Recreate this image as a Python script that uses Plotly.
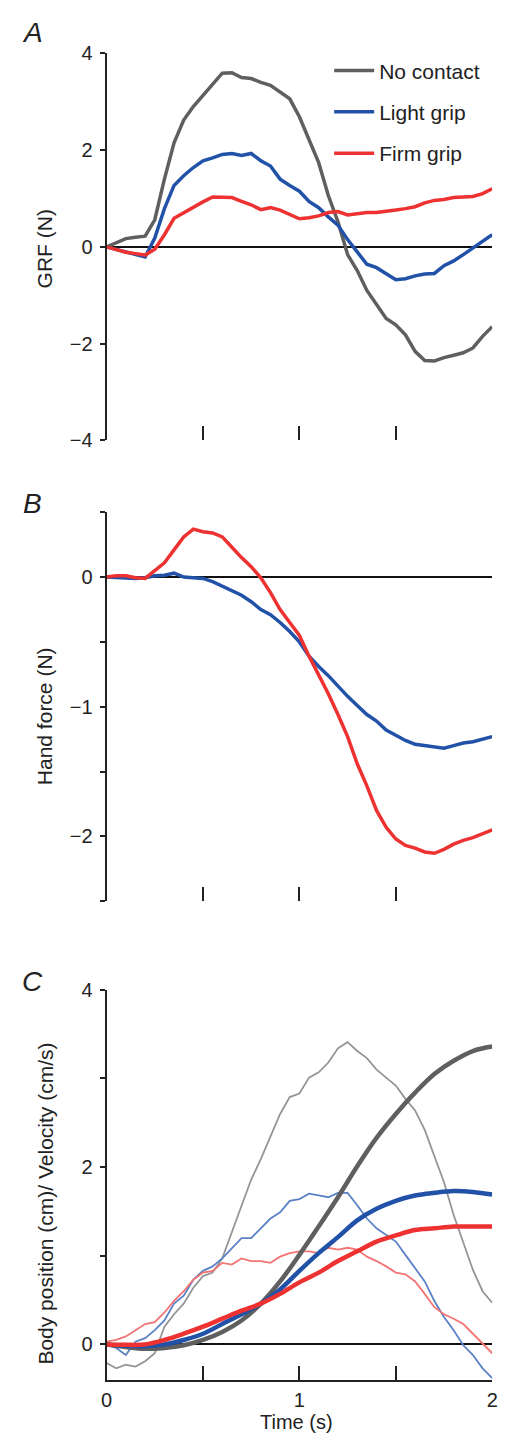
import plotly.graph_objects as go

# ---------------- data ----------------
t05 = [round(i * 0.05, 2) for i in range(41)]
t10 = [round(i * 0.1, 1) for i in range(21)]

# Panel A: ground reaction force (N)
grf_no_contact = [0, 0.09, 0.17, 0.2, 0.22, 0.56, 1.4, 2.15, 2.62, 2.9, 3.13, 3.37, 3.59, 3.6, 3.5,
                  3.48, 3.4, 3.34, 3.2, 3.06, 2.69, 2.22, 1.74, 1.06, 0.52, -0.16, -0.49, -0.9, -1.2,
                  -1.48, -1.61, -1.82, -2.16, -2.35, -2.36, -2.29, -2.24, -2.19, -2.09, -1.85, -1.65]
grf_light = [0, -0.05, -0.11, -0.16, -0.21, 0.18, 0.79, 1.27, 1.47, 1.64, 1.78, 1.84, 1.91, 1.93, 1.89,
             1.93, 1.78, 1.67, 1.4, 1.27, 1.15, 0.94, 0.81, 0.62, 0.45, 0.15, -0.11, -0.36, -0.43,
             -0.56, -0.68, -0.66, -0.6, -0.56, -0.55, -0.39, -0.29, -0.16, -0.02, 0.12, 0.25]
grf_firm = [0, -0.05, -0.11, -0.14, -0.17, -0.05, 0.25, 0.59, 0.71, 0.83, 0.93, 1.03, 1.02, 1.02, 0.94,
            0.87, 0.77, 0.81, 0.76, 0.66, 0.58, 0.6, 0.64, 0.71, 0.73, 0.66, 0.68, 0.71, 0.71,
            0.73, 0.76, 0.79, 0.83, 0.91, 0.96, 0.98, 1.02, 1.03, 1.04, 1.1, 1.2]

# Panel B: hand force (N)
hand_light = [0, -0.005, -0.005, -0.01, -0.005, 0.01, 0.015, 0.03, 0, -0.005, -0.01, -0.035, -0.07,
              -0.11, -0.14, -0.19, -0.25, -0.29, -0.35, -0.42, -0.5, -0.61, -0.69, -0.76, -0.84,
              -0.92, -0.99, -1.06, -1.11, -1.18, -1.22, -1.26, -1.29, -1.3, -1.31, -1.32, -1.3,
              -1.28, -1.27, -1.25, -1.23]
hand_firm = [0, 0.01, 0.01, -0.005, -0.01, 0.05, 0.11, 0.21, 0.31, 0.37, 0.35, 0.34, 0.31, 0.23, 0.15,
             0.08, -0.005, -0.12, -0.25, -0.35, -0.45, -0.61, -0.75, -0.9, -1.06, -1.23, -1.44,
             -1.61, -1.8, -1.93, -2.02, -2.07, -2.09, -2.12, -2.13, -2.1, -2.06, -2.03, -2.01,
             -1.98, -1.95]

# Panel C: body position (cm), smooth, 0.1 s steps
pos_no_contact = [0, -0.03, -0.05, -0.04, -0.01, 0.05, 0.14, 0.27, 0.46, 0.71, 1.01, 1.33, 1.66,
                  2.01, 2.33, 2.6, 2.84, 3.05, 3.2, 3.31, 3.36]
pos_light = [0, -0.015, -0.02, 0, 0.05, 0.12, 0.23, 0.34, 0.46, 0.62, 0.83, 1.03, 1.21, 1.4, 1.53,
             1.62, 1.68, 1.71, 1.73, 1.72, 1.69]
pos_firm = [0, -0.005, 0, 0.05, 0.12, 0.2, 0.29, 0.38, 0.46, 0.57, 0.7, 0.81, 0.94, 1.05, 1.16,
            1.23, 1.29, 1.31, 1.33, 1.33, 1.33]

# Panel C: velocity (cm/s), 0.05 s steps
vel_no_contact = [-0.21, -0.27, -0.23, -0.25, -0.19, -0.1, 0.2, 0.34, 0.46, 0.64, 0.77, 0.81, 0.97,
                  1.27, 1.57, 1.86, 2.09, 2.34, 2.6, 2.79, 2.83, 3.01, 3.07, 3.18, 3.34, 3.41, 3.31,
                  3.23, 3.1, 3.01, 2.92, 2.77, 2.64, 2.42, 2.12, 1.83, 1.46, 1.16, 0.84, 0.6, 0.47]
vel_light = [0, -0.04, -0.12, 0.03, 0.07, 0.16, 0.27, 0.46, 0.55, 0.73, 0.83, 0.88, 0.97, 1.09, 1.2,
             1.2, 1.31, 1.42, 1.49, 1.62, 1.64, 1.7, 1.68, 1.66, 1.71, 1.71, 1.57, 1.42, 1.31,
             1.23, 1.16, 1.01, 0.86, 0.71, 0.49, 0.31, 0.16, -0.01, -0.12, -0.27, -0.38]
vel_firm = [0.03, 0.05, 0.09, 0.16, 0.23, 0.25, 0.36, 0.49, 0.6, 0.73, 0.81, 0.83, 0.92, 0.9, 0.97,
            0.94, 0.94, 0.92, 0.99, 1.03, 1.05, 1.05, 1.03, 1.09, 1.07, 1.09, 1.07, 0.99, 0.94,
            0.88, 0.81, 0.79, 0.71, 0.57, 0.42, 0.34, 0.29, 0.23, 0.12, 0.01, -0.1]

series_names = ["No contact", "Light grip", "Firm grip"]
x_tickvals = [0, 0.5, 1, 1.5, 2]
x_ticktext = ["0", "", "1", "", "2"]
y_titles = ["GRF (N)", "Hand force (N)", "Body position (cm)/ Velocity (cm/s)"]
panel_letters = ["A", "B", "C"]

# ---------------- styling ----------------
GREY, BLUE, RED = "#5f5f5f", "#2152a8", "#ee3232"
GREY_L, BLUE_L, RED_L = "#959595", "#5b82c6", "#f27474"
FONT = "Liberation Sans, Arial, Helvetica, sans-serif"
INK = "#222"
W, H = 507, 1445
FS = 21
FS_TICK = 20


def px_x(px):
    return px / W


def px_y(py):
    return (H - py) / H


def px_dom(top, bottom):
    return [px_y(bottom), px_y(top)]


fig = go.Figure()

# Panel A
for name, y, c, g in zip(series_names, [grf_no_contact, grf_light, grf_firm], [GREY, BLUE, RED], ["g1", "g2", "g3"]):
    fig.add_trace(go.Scatter(x=t05, y=y, mode="lines", name=name, legendgroup=g,
                             line=dict(color=c, width=3.5), xaxis="x", yaxis="y"))
# Panel B
for y, c in zip([hand_light, hand_firm], [BLUE, RED]):
    fig.add_trace(go.Scatter(x=t05, y=y, mode="lines", showlegend=False,
                             line=dict(color=c, width=3.5), xaxis="x2", yaxis="y2"))
# Panel C velocity (thin)
for y, c in zip([vel_no_contact, vel_light, vel_firm], [GREY_L, BLUE_L, RED_L]):
    fig.add_trace(go.Scatter(x=t05, y=y, mode="lines", showlegend=False,
                             line=dict(color=c, width=1.8), xaxis="x3", yaxis="y3"))
# Panel C position (thick)
for y, c in zip([pos_no_contact, pos_light, pos_firm], [GREY, BLUE, RED]):
    fig.add_trace(go.Scatter(x=t10, y=y, mode="lines", showlegend=False,
                             line=dict(color=c, width=4.5, shape="spline"), xaxis="x3", yaxis="y3"))

xdom = [px_x(103), px_x(498)]
tickfont = dict(family=FONT, size=FS_TICK, color=INK)

common_x = dict(domain=xdom, range=[0, 2], tickvals=x_tickvals, showgrid=False, zeroline=False,
                ticks="inside", ticklen=14, tickwidth=2, tickcolor=INK, fixedrange=True)
common_y = dict(showgrid=False, showline=True, linecolor=INK, linewidth=2, ticks="outside",
                ticklen=5, tickwidth=2, tickcolor=INK, tickfont=tickfont, ticklabelstandoff=3,
                zeroline=True, zerolinecolor="#111", zerolinewidth=1.5, fixedrange=True)

fig.update_layout(
    width=W, height=H, margin=dict(l=0, r=0, t=0, b=0),
    paper_bgcolor="white", plot_bgcolor="white",
    font=dict(family=FONT, size=FS, color=INK),
    xaxis=dict(**common_x, anchor="y", showline=False, showticklabels=False,
               ticktext=["", "", "", "", ""]),
    yaxis=dict(**common_y, domain=px_dom(43, 436), range=[-4, 4], anchor="x",
               tickvals=[-4, -2, 0, 2, 4], ticktext=["\u22124", "\u22122", "0", "2", "4"]),
    xaxis2=dict(**common_x, anchor="y2", showline=False, showticklabels=False,
                ticktext=["", "", "", "", ""]),
    yaxis2=dict(**common_y, domain=px_dom(509, 904), range=[-2.5, 0.5], anchor="x2",
                tickvals=[-2.5, -2, -1.5, -1, -0.5, 0, 0.5],
                ticktext=["", "\u22122", "", "\u22121", "", "0", ""]),
    xaxis3=dict(**common_x, anchor="y3", showline=True, linecolor=INK, linewidth=2,
                ticktext=x_ticktext, tickfont=tickfont, ticklabelstandoff=1),
    yaxis3=dict(**common_y, domain=px_dom(994, 1390), range=[-0.4, 4], anchor="x3",
                tickvals=[0, 1, 2, 3, 4], ticktext=["0", "", "2", "", "4"]),
    legend=dict(x=px_x(331), y=px_y(40), xanchor="left", yanchor="top",
                font=dict(family=FONT, size=FS, color=INK), bgcolor="rgba(0,0,0,0)",
                traceorder="grouped", tracegroupgap=11, itemwidth=40),
    showlegend=True,
)

# axis titles (placed as annotations)
for text, xc, yc in zip(y_titles, [39, 39, 41], [242, 716, 1211]):
    fig.add_annotation(text=text, xref="paper", yref="paper", x=px_x(xc), y=px_y(yc),
                       textangle=-90, showarrow=False, xanchor="center", yanchor="middle",
                       font=dict(family=FONT, size=FS, color=INK))
fig.add_annotation(text="Time (s)", xref="paper", yref="paper", x=px_x(298), y=0,
                   showarrow=False, xanchor="center", yanchor="bottom", borderpad=0,
                   font=dict(family=FONT, size=20, color=INK))

for letter, ypx in zip(panel_letters, [22, 500, 985]):
    fig.add_annotation(text=f"<i>{letter}</i>", xref="paper", yref="paper",
                       x=px_x(27), y=px_y(ypx), showarrow=False, xanchor="center", yanchor="middle",
                       font=dict(family=FONT, size=28, color=INK))

page_fix = (
    "document.documentElement.style.margin='0px';"
    "document.documentElement.style.overflow='hidden';"
    "document.body.style.margin='0px';"
    "document.body.style.padding='0px';"
    "document.body.style.overflow='hidden';"
    "var d=document.getElementsByClassName('plotly-graph-div');"
    "for(var i=0;i<d.length;i++){d[i].style.display='block';}"
)
fig.write_html("out.html", config={"displayModeBar": False}, post_script=page_fix)
